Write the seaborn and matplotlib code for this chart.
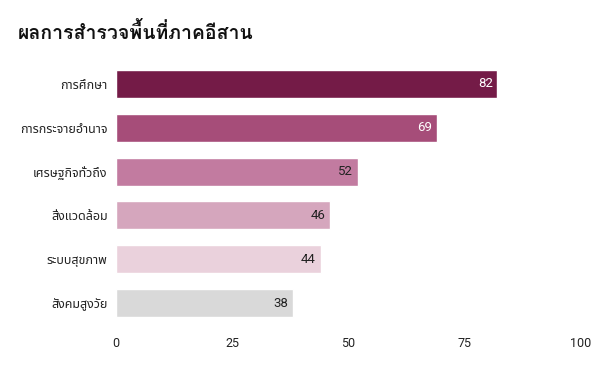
import matplotlib
matplotlib.use("Agg")
import matplotlib.pyplot as plt
import seaborn as sns
import pandas as pd

categories = ["การศึกษา", "การกระจายอำนาจ", "เศรษฐกิจทั่วถึง", "สิ่งแวดล้อม", "ระบบสุขภาพ", "สังคมสูงวัย"]
values = [82, 69, 52, 46, 44, 38]
colors = ["#741b47", "#a64d79", "#c27ba0", "#d5a6bd", "#ead1dc", "#d9d9d9"]
label_colors = ["white", "white", "#222222", "#222222", "#222222", "#222222"]
xticks = [0, 25, 50, 75, 100]
title = "ผลการสำรวจพื้นที่ภาคอีสาน"

sns.set_theme(style="white")
plt.rcParams['font.family'] = ['Roboto', 'Noto Sans Thai', 'Loma', 'DejaVu Sans']

df = pd.DataFrame({"cat": categories, "val": values})
fig = plt.figure(figsize=(6, 3.71), dpi=100)
ax = fig.add_axes([0.1933, 0.124, 0.775, 0.709])
sns.barplot(data=df, x="val", y="cat", hue="cat", palette=colors, legend=False,
            width=0.64, ax=ax, saturation=1)
ax.set_xlim(0, 100)
ax.set_ylim(5.5, -0.5)
ax.set_xticks(xticks)
ax.set_xlabel("")
ax.set_ylabel("")
for s in ax.spines.values():
    s.set_visible(False)
ax.tick_params(axis="x", length=0, pad=9, labelsize=9, colors="#222222")
ax.tick_params(axis="y", length=0, pad=6, labelsize=9, colors="#222222")
for i, (v, c) in enumerate(zip(values, label_colors)):
    ax.text(v - 1.0, i, str(v), ha="right", va="center", fontsize=9.5, color=c)
fig.text(0.03, 0.913, title, fontsize=14, fontweight="bold", color="#111111",
         ha="left", va="center", family=['Loma', 'Noto Sans Thai', 'DejaVu Sans'])
fig.savefig("out.png", dpi=100)
